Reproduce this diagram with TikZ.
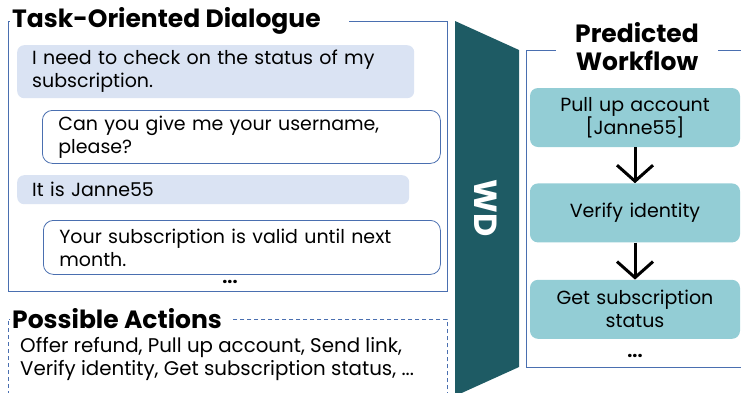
\documentclass[tikz,border=0pt]{standalone}
\usepackage{fontspec}
\setmainfont{Poppins}
\usetikzlibrary{positioning}
\usetikzlibrary{arrows.meta}
\definecolor{usrblue}{HTML}{DAE3F3}
\definecolor{lineblue}{HTML}{4A6FB0}
\definecolor{wdteal}{HTML}{1E5B64}
\definecolor{wfteal}{HTML}{93CDD5}
\newcommand{\msgfont}{\fontsize{19}{23}\selectfont}
\newcommand{\actfont}{\fontsize{19.8}{23}\selectfont}
\newcommand{\headfont}{\fontsize{25}{28}\selectfont\bfseries}
\tikzset{frame/.style={draw=lineblue, line width=0.8pt, inner sep=0pt, anchor=north west}}
\tikzset{head/.style={fill=white, inner xsep=2pt, inner ysep=1pt, font=\headfont}}
\tikzset{usr/.style={fill=usrblue, rounded corners=7pt, anchor=north west, inner xsep=15pt, inner ysep=0pt, align=left, font=\msgfont}}
\tikzset{agt/.style={draw=lineblue, line width=0.8pt, fill=white, rounded corners=10pt, anchor=north west, inner xsep=16pt, inner ysep=0pt, align=left, font=\msgfont}}
\tikzset{wfstep/.style={fill=wfteal, rounded corners=8pt, text width=200pt, inner xsep=5pt, minimum height=59pt, align=center, font=\msgfont}}
\tikzset{flow/.style={line width=3pt, -{Straight Barb[length=16pt, width=36pt, line width=3pt]}}}
\tikzset{dots/.style={font=\fontsize{18}{20}\selectfont\bfseries, inner sep=0pt}}

\begin{document}
\begin{tikzpicture}[x=1pt, y=-1pt]
\useasboundingbox (0,0) rectangle (741,392);

% dialogue
\node[frame, minimum width=439pt, minimum height=270pt] (dlgframe) at (8,21) {};
\node[head, anchor=west] (dlgtitle) at (10,21) {Task-Oriented Dialogue\hspace*{26pt}};

\node[usr, text width=367pt, minimum height=53pt] (msga) at (17,45) {I need to check on the status of my\\subscription.};
\node[agt, text width=366pt, minimum height=53pt] (msgb) at (42,110) {Can you give me your username,\\please?};
\node[usr, text width=362pt, minimum height=29pt] (msgc) at (17,175) {It is Janne55};
\node[agt, text width=365pt, minimum height=54pt] (msgd) at (43,220) {Your subscription is valid until next\\month.};
\node[dots] (dlgdots) at (230,282) {...};

% actions
\node[frame, dashed, dash pattern=on 4pt off 3pt, minimum width=439pt, minimum height=100pt] (actframe) at (8,319) {};
\node[head, anchor=west] (acttitle) at (10,319) {Possible Actions\hspace*{6pt}};
\node[font=\actfont, align=left, anchor=north west, inner sep=0pt] (acttext) at (20,337)
  {Offer refund, Pull up account, Send link,\\Verify identity, Get subscription status, ...};

% model
\fill[wdteal] (455,21) -- (519,50) -- (519,367) -- (455,396) -- cycle;
\node[rotate=-90, text=white, font=\fontsize{32}{32}\selectfont\bfseries] (wd) at (486,208) {WD};

% workflow
\node[frame, minimum width=230pt, minimum height=317pt] (wfframe) at (526,50) {};
\node[head, align=center, text width=158pt] (wftitle) at (637,47) {Predicted\\Workflow};

\node[wfstep] (pull) at (635,117.5) {Pull up account\\{[Janne55]}};
\node[wfstep, below=36pt of pull] (verify) {Verify identity};
\node[wfstep, below=37pt of verify] (getsub) {Get subscription\\status};
\node[dots] (wfdots) at (635,356) {...};

\draw[flow] (pull) -- (verify);
\draw[flow] (verify) -- (getsub);
\end{tikzpicture}
\end{document}
